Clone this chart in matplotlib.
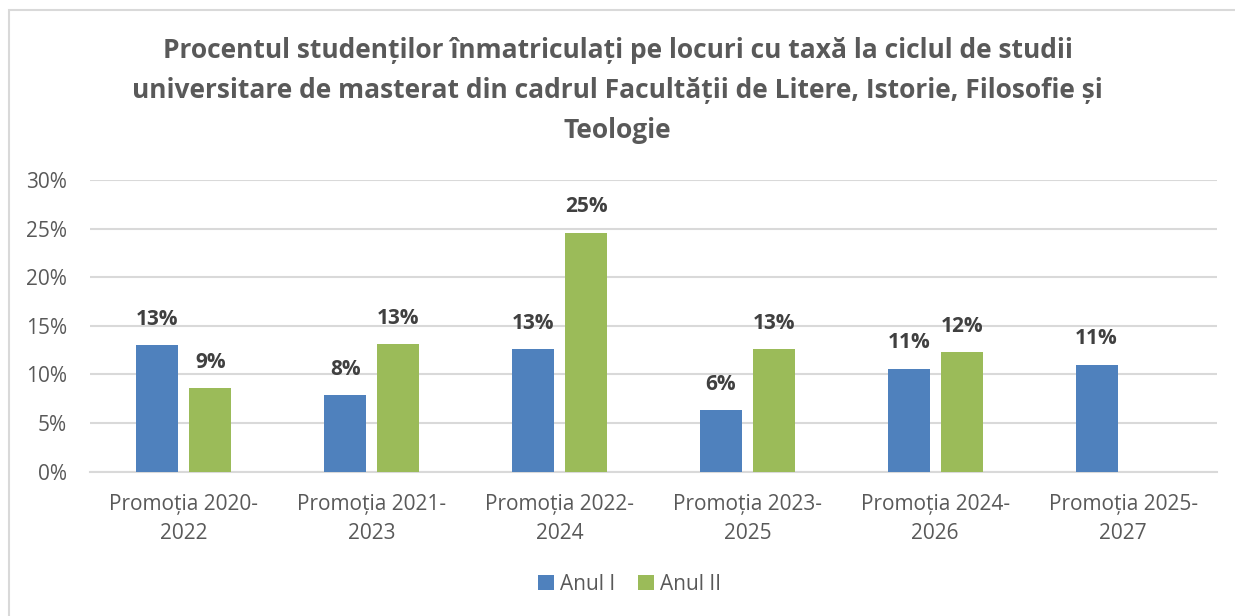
"""Bar chart: share of fee-paying master's students, Faculty of Letters"""

import numpy as np
import matplotlib.pyplot as plt
from matplotlib.patches import Rectangle
from matplotlib.ticker import PercentFormatter

# -----------------------------------------------------------------------------
# Data

categories = ["Promoția 2020-\n2022", "Promoția 2021-\n2023",
              "Promoția 2022-\n2024", "Promoția 2023-\n2025",
              "Promoția 2024-\n2026", "Promoția 2025-\n2027"]
anul_1 = [0.130, 0.079, 0.126, 0.063, 0.106, 0.110]
anul_2 = [0.086, 0.131, 0.246, 0.126, 0.123, np.nan]
series_names = ["Anul I", "Anul II"]

title = ("Procentul studenților înmatriculați pe locuri cu taxă la ciclul de studii\n"
         "universitare de masterat din cadrul Facultății de Litere, Istorie, Filosofie și\n"
         "Teologie")

# -----------------------------------------------------------------------------

plt.rcParams['font.family'] = ['Open Sans', 'DejaVu Sans']

BLUE = '#4f81bd'
GREEN = '#9bbb59'
TEXT = '#595959'
LABEL = '#404040'
GRID = '#d9d9d9'

fig = plt.figure(figsize=(12.35, 6.16), dpi=100)
ax = fig.add_axes([90 / 1235, 144.3 / 616, 1127 / 1235, 291.7 / 616])

# light frame round the chart area, as in the spreadsheet export
fig.patches.append(Rectangle((9 / 1235, -0.1), 1.2, (616 - 10) / 616 + 0.1,
                             transform=fig.transFigure, fill=False,
                             edgecolor=GRID, linewidth=1.5))

x = np.arange(len(categories))
width = 0.224
offset = 0.141

bars1 = ax.bar(x - offset, anul_1, width, color=BLUE, label=series_names[0],
               zorder=3)
bars2 = ax.bar(x + offset, anul_2, width, color=GREEN, label=series_names[1],
               zorder=3)

# Data labels above each bar
for bars, vals in ((bars1, anul_1), (bars2, anul_2)):
    for b, v in zip(bars, vals):
        if np.isnan(v):
            continue
        ax.annotate(f"{v * 100:.0f}%", (b.get_x() + b.get_width() / 2, v),
                    xytext=(0, 11), textcoords='offset points',
                    ha='center', va='bottom', fontsize=15,
                    fontweight='bold', color=LABEL)

ax.set_xlim(-0.5, len(categories) - 0.5)
ax.set_ylim(0, 0.30)
ax.set_yticks(np.arange(0, 0.31, 0.05))
ax.yaxis.set_major_formatter(PercentFormatter(1.0, decimals=0))
ax.set_xticks(x)
ax.set_xticklabels(categories, linespacing=1.5)

ax.grid(axis='y', color=GRID, linewidth=1.5, zorder=0)
for side in ('top', 'right', 'left'):
    ax.spines[side].set_visible(False)
ax.spines['bottom'].set_color(GRID)
ax.spines['bottom'].set_linewidth(1.5)
ax.tick_params(axis='both', length=0, labelsize=15, colors=TEXT)
ax.tick_params(axis='x', pad=16)
ax.tick_params(axis='y', pad=16.5)

fig.text(0.5, 0.94, title, ha='center', va='top', fontsize=19,
         fontweight='bold', color=TEXT, linespacing=1.62)

fig.legend(loc='center', bbox_to_anchor=(0.51, 1 - 584 / 616), ncol=2,
           frameon=False, fontsize=15, handlelength=0.75, handleheight=0.75,
           handletextpad=0.3, columnspacing=1.1, labelcolor=TEXT)

plt.savefig('out.png', dpi=100)
plt.close()
